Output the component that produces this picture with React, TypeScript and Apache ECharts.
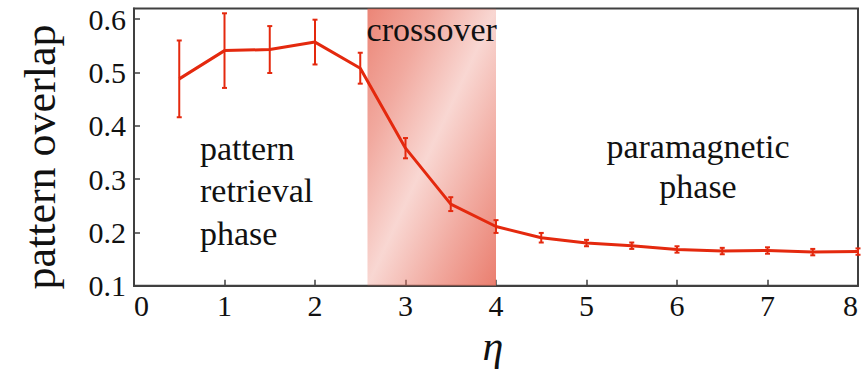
import React, { useEffect, useRef } from "react";
import * as echarts from "echarts";

// ---- data ----
const etaValues = [0.5, 1, 1.5, 2, 2.5, 3, 3.5, 4, 4.5, 5, 5.5, 6, 6.5, 7, 7.5, 8];
const overlapValues = [0.488, 0.541, 0.543, 0.557, 0.508, 0.358, 0.253, 0.211, 0.19, 0.18, 0.175, 0.168, 0.165, 0.166, 0.163, 0.164];
const errorValues = [0.072, 0.07, 0.044, 0.042, 0.029, 0.019, 0.013, 0.012, 0.009, 0.006, 0.006, 0.006, 0.006, 0.006, 0.006, 0.006];
const crossoverRange = [2.58, 4];
const xTickValues = [0, 1, 2, 3, 4, 5, 6, 7, 8];
const yTickLabels = ["0.1", "0.2", "0.3", "0.4", "0.5", "0.6"];
const xMin = 0;
const xMax = 8;
const yMin = 0.1;
const yMax = 0.62;

const RED = "#e4290e";
const SERIF = "Times New Roman, Liberation Serif, serif";
const AXIS = "#404040";

export default function App() {
  const ref = useRef<HTMLDivElement>(null);

  useEffect(() => {
    document.body.style.margin = "0";
    const chart = echarts.init(ref.current!, null, { renderer: "svg" });

    const lineData = etaValues.map((x, i) => [x, overlapValues[i]]);
    const errData = etaValues.map((x, i) => [x, overlapValues[i] - errorValues[i], overlapValues[i] + errorValues[i]]);

    const option: any = {
      animation: false,
      backgroundColor: "#ffffff",
      textStyle: { fontFamily: SERIF },
      grid: {
        left: 134,
        right: 4,
        top: 8.5,
        bottom: 83.3,
        show: true,
        borderColor: AXIS,
        borderWidth: 2,
        backgroundColor: "transparent",
        containLabel: false,
        outerBoundsMode: "none",
      },
      xAxis: {
        type: "value",
        min: xMin,
        max: xMax,
        interval: 1,
        axisLine: { show: true, onZero: false, lineStyle: { color: AXIS, width: 2 } },
        axisTick: { show: true, inside: true, length: 6, lineStyle: { color: AXIS, width: 1.5 } },
        splitLine: { show: false },
        axisLabel: {
          color: "#111",
          fontFamily: SERIF,
          fontSize: 30,
          margin: 5,
          alignMinLabel: "left",
          alignMaxLabel: "right",
          formatter: (v: number) => (xTickValues.includes(Math.round(v)) ? String(Math.round(v)) : ""),
        },
      },
      yAxis: {
        type: "value",
        min: yMin,
        max: yMax,
        interval: 0.1,
        axisLine: { show: true, lineStyle: { color: AXIS, width: 2 } },
        axisTick: { show: true, inside: true, length: 6, lineStyle: { color: AXIS, width: 1.5 } },
        splitLine: { show: false },
        axisLabel: {
          color: "#111",
          fontFamily: SERIF,
          fontSize: 30,
          margin: 8,
          showMaxLabel: false,
          formatter: (v: number) => {
            const k = Math.round(v * 10);
            if (Math.abs(v * 10 - k) > 1e-6) return "";
            return yTickLabels[k - 1] ?? "";
          },
        },
      },
      series: [
        {
          type: "custom",
          name: "crossover",
          z: 1,
          clip: true,
          data: [[crossoverRange[0], crossoverRange[1], yMin, yMax]],
          encode: { x: [0, 1], y: [2, 3] },
          renderItem: (params: any, api: any) => {
            const p0 = api.coord([api.value(0), api.value(3)]);
            const p1 = api.coord([api.value(1), api.value(2)]);
            const x = p0[0];
            const y = p0[1];
            const w = p1[0] - p0[0];
            const h = p1[1] - p0[1];
            const k = (2 * w * h) / (w * w + h * h);
            const c = (a: number) => `rgba(232,112,95,${a})`;
            const grad = new echarts.graphic.LinearGradient(
              x,
              y,
              x + k * h,
              y + k * w,
              [
                { offset: 0, color: c(0.85) },
                { offset: 0.25, color: c(0.6) },
                { offset: 0.5, color: c(0.28) },
                { offset: 0.75, color: c(0.6) },
                { offset: 1, color: c(0.9) },
              ],
              true
            );
            return {
              type: "group",
              children: [
                { type: "rect", shape: { x, y, width: w, height: h }, style: { fill: grad } },
                {
                  type: "text",
                  x: x + w / 2,
                  y: y + 4,
                  style: {
                    text: "crossover",
                    fontFamily: SERIF,
                    fontSize: 34,
                    lineHeight: 34,
                    fill: "#111",
                    align: "center",
                    verticalAlign: "top",
                  },
                },
              ],
            };
          },
        },
        {
          type: "line",
          name: "overlap",
          z: 3,
          data: lineData,
          showSymbol: false,
          symbol: "none",
          lineStyle: { color: RED, width: 3 },
          itemStyle: { color: RED },
        },
        {
          type: "custom",
          name: "error",
          z: 4,
          data: errData,
          encode: { x: 0, y: [1, 2] },
          renderItem: (params: any, api: any) => {
            const xv = api.value(0);
            const lo = api.coord([xv, api.value(1)]);
            const hi = api.coord([xv, api.value(2)]);
            const cap = 2.5;
            const st = { stroke: RED, lineWidth: 2 };
            return {
              type: "group",
              children: [
                { type: "line", shape: { x1: lo[0], y1: lo[1], x2: hi[0], y2: hi[1] }, style: st },
                { type: "line", shape: { x1: lo[0] - cap, y1: lo[1], x2: lo[0] + cap, y2: lo[1] }, style: st },
                { type: "line", shape: { x1: hi[0] - cap, y1: hi[1], x2: hi[0] + cap, y2: hi[1] }, style: st },
              ],
            };
          },
        },
      ],
      graphic: [
        {
          type: "text",
          x: 40,
          y: 157,
          rotation: Math.PI / 2,
          style: {
            text: "pattern overlap",
            fontFamily: SERIF,
            fontSize: 44,
            fill: "#111",
            align: "center",
            verticalAlign: "middle",
          },
        },
        {
          type: "text",
          x: 493,
          y: 346,
          style: {
            text: "η",
            fontFamily: SERIF,
            fontStyle: "italic",
            fontSize: 42,
            fill: "#111",
            align: "center",
            verticalAlign: "middle",
          },
        },
        {
          type: "text",
          x: 200,
          y: 127,
          style: {
            text: "pattern\nretrieval\nphase",
            fontFamily: SERIF,
            fontSize: 34,
            lineHeight: 42.5,
            fill: "#111",
            align: "left",
            verticalAlign: "top",
          },
        },
        {
          type: "text",
          x: 698,
          y: 126,
          style: {
            text: "paramagnetic\nphase",
            fontFamily: SERIF,
            fontSize: 34,
            lineHeight: 40,
            fill: "#111",
            align: "center",
            verticalAlign: "top",
          },
        },
      ],
    };

    chart.setOption(option);
    return () => chart.dispose();
  }, []);

  return (
    <div
      ref={ref}
      style={{ position: "fixed", left: 0, top: 0, width: 862, height: 369 }}
    />
  );
}
